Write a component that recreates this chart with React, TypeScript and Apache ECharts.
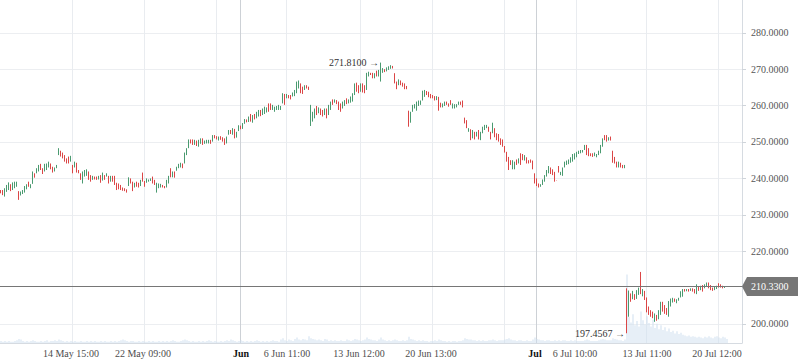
import React, { useEffect, useRef } from 'react';
import * as echarts from 'echarts';

// Hourly bars: [open, close] (one bar per trading hour)
const priceBars: [number, number][] = [
  [236.8,235.9],[236.8,235.4],[235.0,237.3],[236.3,238.2],[236.8,238.9],[238.4,236.5],[236.8,238.9],[237.3,239.1],[237.7,239.1],[236.5,234.1],
  [235.3,236.4],[235.7,236.8],[236.1,237.9],[237.0,238.4],[239.1,237.7],[237.3,238.4],[238.5,241.9],[241.4,240.2],[241.4,242.8],[241.9,243.7],
  [244.0,242.3],[242.8,241.2],[241.9,244.0],[242.3,244.1],[243.0,244.6],[244.1,242.5],[243.2,241.6],[241.9,243.0],[242.8,243.7],[246.4,248.3],
  [247.6,246.0],[247.1,245.5],[246.4,244.6],[245.5,244.1],[246.0,244.1],[244.6,246.2],[243.7,241.4],[243.0,244.6],[244.3,241.6],[242.3,241.4],
  [241.4,239.6],[238.6,241.9],[240.5,242.3],[240.7,242.5],[241.9,239.6],[240.9,239.1],[239.6,240.7],[240.5,239.7],[240.5,239.6],[239.7,240.7],
  [240.9,238.8],[239.4,241.6],[240.9,239.6],[240.5,241.4],[240.7,238.6],[239.1,240.7],[240.7,239.1],[240.7,238.2],[238.8,236.8],[238.6,237.0],
  [238.2,236.8],[237.5,236.6],[237.3,236.5],[237.0,236.1],[237.9,240.3],[240.0,238.6],[239.1,236.5],[237.5,238.8],[239.1,237.7],[238.8,237.5],
  [237.9,239.6],[241.6,239.1],[239.3,237.7],[238.8,240.0],[239.1,239.7],[239.3,240.0],[240.5,238.6],[239.6,238.2],[236.1,238.8],[237.3,238.6],
  [237.5,238.5],[238.2,237.5],[237.9,237.3],[237.5,239.6],[238.6,240.7],[242.8,240.3],[240.3,241.9],[241.9,240.2],[242.1,243.2],[242.8,244.0],
  [243.0,244.3],[244.1,242.8],[244.1,247.1],[246.4,248.3],[248.3,250.7],[250.7,249.6],[250.7,249.2],[249.2,250.6],[250.4,248.9],[248.7,250.6],
  [249.5,251.0],[251.0,249.2],[249.5,250.4],[249.6,250.6],[249.6,250.6],[250.6,249.5],[250.1,251.9],[251.9,251.0],[251.6,250.7],[250.4,251.5],
  [251.6,250.6],[251.3,250.1],[251.0,249.2],[249.6,251.5],[252.0,253.3],[253.3,252.2],[252.0,253.8],[253.6,251.0],[251.2,252.8],[253.0,254.6],
  [254.5,253.5],[253.6,255.2],[255.0,256.3],[256.2,255.4],[255.5,257.0],[257.7,255.6],[255.3,257.4],[257.7,256.2],[256.5,258.3],[257.0,258.8],
  [258.8,257.1],[257.4,259.2],[257.7,259.7],[258.1,259.5],[260.6,258.3],[260.6,258.8],[258.8,260.2],[258.3,259.7],[258.8,259.9],[258.8,260.2],
  [258.8,259.9],[260.6,263.4],[263.2,260.2],[262.0,263.2],[262.9,262.0],[262.9,261.7],[262.5,263.6],[262.6,264.3],[263.4,266.6],[264.7,266.9],
  [266.1,263.4],[265.2,263.2],[264.3,265.6],[265.6,264.7],[265.2,264.3],[254.4,260.2],[255.6,258.3],[256.5,259.2],[259.9,257.4],[257.9,259.5],
  [259.2,257.4],[258.8,257.0],[257.4,259.2],[259.2,256.5],[257.4,260.2],[258.8,261.1],[261.7,260.2],[260.8,261.7],[261.5,260.4],[261.1,258.8],
  [260.6,258.3],[259.2,261.1],[259.9,261.5],[262.0,260.4],[260.6,261.7],[260.8,262.5],[261.1,263.4],[262.9,266.1],[266.3,263.8],[265.6,263.4],
  [263.8,266.1],[266.1,263.6],[265.6,263.4],[264.3,269.0],[268.0,269.3],[269.0,268.4],[269.0,267.5],[267.5,268.9],[269.6,268.0],[268.0,269.8],
  [266.6,270.5],[269.0,270.3],[270.0,269.2],[269.4,270.5],[269.8,270.8],[270.1,271.1],[270.9,270.2],[268.9,266.1],[266.6,264.5],[265.6,267.2],
  [266.9,265.6],[266.3,265.2],[266.1,264.5],[265.4,264.5],[258.6,254.2],[255.3,258.3],[258.3,260.2],[259.2,260.4],[258.6,261.1],[259.9,261.4],
  [260.2,261.4],[261.4,264.1],[262.4,264.3],[264.0,262.9],[263.8,262.3],[263.2,262.0],[262.9,262.0],[262.6,261.4],[261.5,262.6],[262.4,258.6],
  [260.8,259.5],[259.5,260.6],[259.9,261.1],[261.1,260.2],[260.6,259.7],[261.5,260.2],[259.2,260.6],[259.2,260.4],[259.5,260.4],[260.2,261.1],
  [261.1,260.2],[261.4,259.5],[256.7,255.1],[256.0,253.8],[252.8,253.8],[253.5,250.5],[251.0,253.3],[252.8,250.7],[251.5,252.8],[253.3,250.7],
  [250.5,252.8],[252.4,254.2],[253.3,254.7],[253.8,254.7],[254.2,252.8],[252.8,250.7],[252.4,255.3],[253.8,251.3],[252.4,250.5],[252.2,250.1],
  [251.0,249.2],[250.7,248.7],[248.9,247.1],[247.3,244.6],[245.9,242.3],[245.0,243.7],[242.5,245.0],[242.5,244.6],[245.2,243.7],[244.1,245.5],
  [246.9,243.7],[246.7,245.0],[244.9,246.4],[245.8,244.1],[245.0,244.1],[245.2,244.3],[244.9,242.5],[241.4,238.6],[240.0,237.9],[238.6,237.5],
  [237.7,238.4],[238.2,239.7],[239.1,240.9],[240.5,242.3],[241.4,243.4],[243.0,241.2],[242.5,240.9],[241.8,239.1],[239.4,239.3],[243.4,241.6],
  [240.9,241.8],[240.7,243.0],[243.0,244.6],[243.7,244.9],[243.9,245.2],[244.3,245.8],[244.6,246.7],[245.2,246.9],[245.8,247.3],[246.7,247.6],
  [246.9,247.8],[247.1,247.8],[247.8,249.2],[249.2,246.4],[248.3,246.1],[246.9,246.1],[246.9,245.9],[246.1,247.1],[245.8,246.7],[246.4,247.6],
  [246.9,249.2],[248.7,251.0],[251.9,250.5],[251.9,250.1],[250.4,251.3],[251.5,250.4],[247.6,244.3],[245.9,244.1],[244.6,243.0],[243.0,244.6],
  [244.3,243.0],[243.7,242.8],[242.8,243.7],
  [209.5,197.8],[202.0,209.2],[208.4,206.1],[206.8,209.1],[208.2,206.6],[206.9,209.3],[208.0,210.0],[210.6,208.2],[207.6,209.6],[209.1,206.6],
  [207.3,203.2],[204.8,202.5],[203.8,202.0],[203.4,201.6],[200.6,202.9],[202.5,200.9],[201.3,203.8],[202.5,206.1],[206.1,203.4],[205.2,202.8],
  [204.4,202.5],[202.0,206.3],[204.8,207.0],[205.9,207.2],[207.0,206.1],[205.7,206.8],[206.4,207.2],[207.3,209.0],[207.5,209.6],[209.6,208.9],
  [209.0,209.6],[209.6,208.9],[209.1,209.8],[209.8,208.9],[209.6,208.4],[208.2,210.9],[210.2,209.1],[209.3,210.5],[210.7,208.9],[209.8,210.9],
  [210.3,211.4],[211.4,209.8],[210.7,209.3],[210.0,209.1],[209.3,210.2],[209.6,210.5],[211.2,210.0],[210.9,210.0],[210.5,209.8],[209.9,210.3],
  [210.2,210.33],
];

// Wick extremes that reach beyond the open/close of their bar
const wickHighs: [number, number][] = [[190, 271.81], [313, 209.8], [320, 214.3]];
const wickLows: [number, number][] = [[313, 197.4567]];

// Volume (millions)
const volumes: number[] = [
  0.3,0.2,0.3,0.2,0.3,0.2,0.2,0.3,0.4,0.6, 0.5,0.3,0.2,0.3,0.2,0.3,0.4,0.3,0.2,0.2,
  0.3,0.2,0.3,0.4,0.2,0.3,0.3,0.4,0.3,0.5, 0.4,0.3,0.2,0.3,0.2,0.3,0.2,0.3,0.2,0.2,
  0.3,0.2,0.2,0.3,0.2,0.3,0.2,0.3,0.2,0.2, 0.3,0.2,0.3,0.2,0.2,0.3,0.2,0.3,0.2,0.3,
  0.4,0.5,0.4,0.3,0.2,0.3,0.3,0.2,0.2,0.3, 0.2,0.3,0.2,0.2,0.3,0.2,0.3,0.2,0.2,0.3,
  0.2,0.3,0.2,0.3,0.2,0.3,0.4,0.3,0.2,0.2, 0.3,0.4,0.5,0.4,0.3,0.2,0.3,0.2,0.2,0.3,
  0.2,0.3,0.2,0.3,0.4,0.3,0.2,0.3,0.2,0.2, 0.3,0.2,0.3,0.4,0.3,0.5,0.4,0.3,0.2,0.3,
  0.4,0.3,0.2,0.3,0.2,0.3,0.2,0.3,0.4,0.3, 0.2,0.3,0.2,0.3,0.2,0.3,0.4,0.3,0.3,0.2,
  0.5,0.7,0.4,0.3,0.5,0.4,0.3,0.6,0.8,0.5, 0.4,0.6,0.5,0.4,1.0,0.7,0.6,0.5,0.4,0.5,
  0.4,0.3,0.6,0.5,0.3,0.4,0.3,0.4,0.3,0.3, 0.4,0.3,0.3,0.5,0.4,0.3,0.4,0.6,0.5,0.4,
  0.3,0.4,0.5,0.8,0.6,0.5,0.4,0.4,0.3,0.5, 0.8,0.5,0.4,0.3,0.4,0.3,0.4,0.5,0.4,0.3,
  0.3,0.4,0.3,0.4,0.9,0.6,0.5,0.4,0.3,0.4, 0.3,0.4,0.3,0.3,0.2,0.3,0.3,0.4,0.3,0.5,
  0.4,0.3,0.3,0.2,0.3,0.2,0.3,0.3,0.2,0.3, 0.3,0.4,0.7,0.6,0.5,0.5,0.4,0.4,0.3,0.4,
  0.3,0.4,0.3,0.3,0.4,0.4,0.5,0.4,0.3,0.4, 0.4,0.4,0.5,0.6,0.7,0.5,0.4,0.4,0.3,0.4,
  0.4,0.3,0.3,0.4,0.3,0.3,0.5,0.8,0.6,0.5, 0.4,0.4,0.3,0.4,0.4,0.3,0.3,0.4,0.3,0.4,
  0.3,0.4,0.4,0.3,0.3,0.4,0.3,0.4,0.3,0.3, 0.3,0.3,0.4,0.5,0.4,0.3,0.3,0.3,0.3,0.4,
  0.5,0.6,0.5,0.4,0.4,0.4,0.7,0.6,0.5,0.4, 0.4,0.3,0.5,
  10.0,3.8,3.0,4.2,2.6,3.2,2.4,4.6,3.3,2.7, 3.9,2.9,2.4,3.4,2.2,2.8,2.0,2.6,1.9,2.3,
  1.7,2.1,1.6,1.8,1.4,1.7,1.3,1.5,1.2,1.1, 1.0,1.1,0.9,1.0,0.9,0.8,0.9,0.8,0.7,0.9,
  0.8,1.0,0.8,0.7,0.9,1.0,0.8,0.7,0.9,0.8, 0.6,
];

const lastPrice = 210.33;
const slotCount = 371; // hourly slots on the time scale, including empty space on the right
const tickSlots = [35, 71, 120, 143, 179, 215, 267, 287, 323, 358];
const tickLabels = ['14 May 15:00', '22 May 09:00', 'Jun', '6 Jun 11:00', '13 Jun 12:00', '20 Jun 13:00', 'Jul', '6 Jul 10:00', '13 Jul 11:00', '20 Jul 12:00'];
const monthLabels = ['Jun', 'Jul'];
const gridSlots = [36, 72, 108, 120, 143, 180, 216, 252, 268, 288, 323, 359];
const monthGridSlots = [120, 268];
const yGridValues = [200, 220, 230, 240, 250, 260, 270, 280];
const yMin = 194.78;
const yMax = 289.01;
const volumeMax = 50;

const FONT = "'Liberation Serif', 'Times New Roman', serif";
const UP = '#4a9a70';
const DOWN = '#db4646';
const TAG = '#767676';

export default function App() {
  const ref = useRef<HTMLDivElement>(null);

  useEffect(() => {
    if (!ref.current) return;
    const chart = echarts.init(ref.current, undefined, { renderer: 'svg' });

    const highMap = new Map(wickHighs);
    const lowMap = new Map(wickLows);
    const candles = priceBars.map(([o, c], i) => {
      const lo = lowMap.has(i) ? (lowMap.get(i) as number) : Math.min(o, c);
      const hi = highMap.has(i) ? (highMap.get(i) as number) : Math.max(o, c);
      return [o, c, lo, hi];
    });

    let hiIdx = 0;
    let loIdx = 0;
    candles.forEach((d, i) => {
      if (d[3] > candles[hiIdx][3]) hiIdx = i;
      if (d[2] < candles[loIdx][2]) loIdx = i;
    });
    const hiVal = candles[hiIdx][3];
    const loVal = candles[loIdx][2];

    const slots = Array.from({ length: slotCount }, (_, i) => String(i));
    const labelMap = new Map<number, string>();
    tickSlots.forEach((s, k) => labelMap.set(s, tickLabels[k]));
    const gridSet = new Set(gridSlots);
    const gridColors = gridSlots.map((s) => (monthGridSlots.includes(s) ? '#cdd1d6' : '#e9ecf0'));

    chart.setOption({
      animation: false,
      grid: { left: 0, right: 56, top: 0, bottom: 20 },
      xAxis: {
        type: 'category',
        data: slots,
        boundaryGap: true,
        axisLine: { show: true, lineStyle: { color: '#d6dbe1', width: 1 } },
        axisTick: { show: false },
        axisLabel: {
          show: true,
          interval: (index: number) => labelMap.has(index),
          hideOverlap: false,
          margin: 5,
          fontSize: 10,
          fontFamily: FONT,
          color: '#4d4d4d',
          formatter: (_v: string, index: number) => {
            const t = labelMap.get(index) || '';
            return monthLabels.includes(t) ? `{m|${t}}` : t;
          },
          rich: {
            m: { fontWeight: 'bold', color: '#111', fontSize: 10, fontFamily: FONT },
          },
        },
        splitLine: {
          show: true,
          interval: (index: number) => gridSet.has(index),
          lineStyle: { color: gridColors, width: 1 },
        },
      },
      yAxis: [
        {
          type: 'value',
          position: 'right',
          min: yMin,
          max: yMax,
          scale: true,
          axisLine: { show: true, lineStyle: { color: '#d6dbe1' } },
          axisTick: { show: true, length: 4, customValues: yGridValues, lineStyle: { color: '#cfd4da' } },
          axisLabel: {
            show: true,
            customValues: yGridValues,
            margin: 9,
            fontSize: 10,
            fontFamily: FONT,
            color: '#555',
            formatter: (v: number) => v.toFixed(4),
          },
          splitLine: { show: true, lineStyle: { color: '#eceef1', width: 1 } },
        },
        {
          type: 'value',
          min: 0,
          max: volumeMax,
          show: false,
          splitLine: { show: false },
        },
      ],
      series: [
        {
          type: 'bar',
          name: 'Volume',
          xAxisIndex: 0,
          yAxisIndex: 1,
          data: volumes,
          barWidth: 1,
          silent: true,
          z: 1,
          itemStyle: { color: '#cfdff0' },
        },
        {
          type: 'candlestick',
          name: 'Price',
          xAxisIndex: 0,
          yAxisIndex: 0,
          data: candles,
          barWidth: 0.01,
          silent: true,
          z: 3,
          itemStyle: {
            color: UP,
            color0: DOWN,
            borderColor: UP,
            borderColor0: DOWN,
            borderWidth: 1,
          },
          markLine: {
            silent: true,
            symbol: ['none', 'none'],
            lineStyle: { color: TAG, width: 1, type: 'solid' },
            label: { show: false },
            data: [{ yAxis: lastPrice }],
          },
          markPoint: {
            silent: true,
            symbol: 'rect',
            symbolSize: 0,
            label: {
              show: true,
              position: 'left',
              distance: 2,
              color: '#333',
              fontSize: 10,
              fontFamily: FONT,
            },
            data: [
              { coord: [hiIdx, hiVal], value: hiVal, label: { formatter: `${hiVal.toFixed(4)} \u2192` } },
              { coord: [loIdx, loVal], value: loVal, label: { formatter: `${loVal.toFixed(4)} \u2192` } },
            ],
          },
        },
      ],
    });

    // Price tag on the right axis, positioned through the axis scale
    const py = chart.convertToPixel({ yAxisIndex: 0 }, lastPrice) as number;
    const ax = chart.convertToPixel({ xAxisIndex: 0 }, slotCount - 1) as number + 1;
    chart.setOption({
      graphic: [
        {
          type: 'polygon',
          silent: true,
          z: 100,
          shape: {
            points: [
              [ax, py],
              [ax + 5, py - 9.5],
              [798, py - 9.5],
              [798, py + 9.5],
              [ax + 5, py + 9.5],
            ],
          },
          style: { fill: TAG },
        },
        {
          type: 'text',
          silent: true,
          z: 101,
          x: ax + 9,
          y: py,
          style: {
            text: lastPrice.toFixed(4),
            fill: '#fff',
            fontSize: 10,
            fontFamily: FONT,
            verticalAlign: 'middle',
            align: 'left',
          },
        },
      ],
    });

    return () => {
      chart.dispose();
    };
  }, []);

  return (
    <div
      ref={ref}
      style={{ position: 'absolute', left: 0, top: 0, width: 798, height: 363, background: '#fff' }}
    />
  );
}
